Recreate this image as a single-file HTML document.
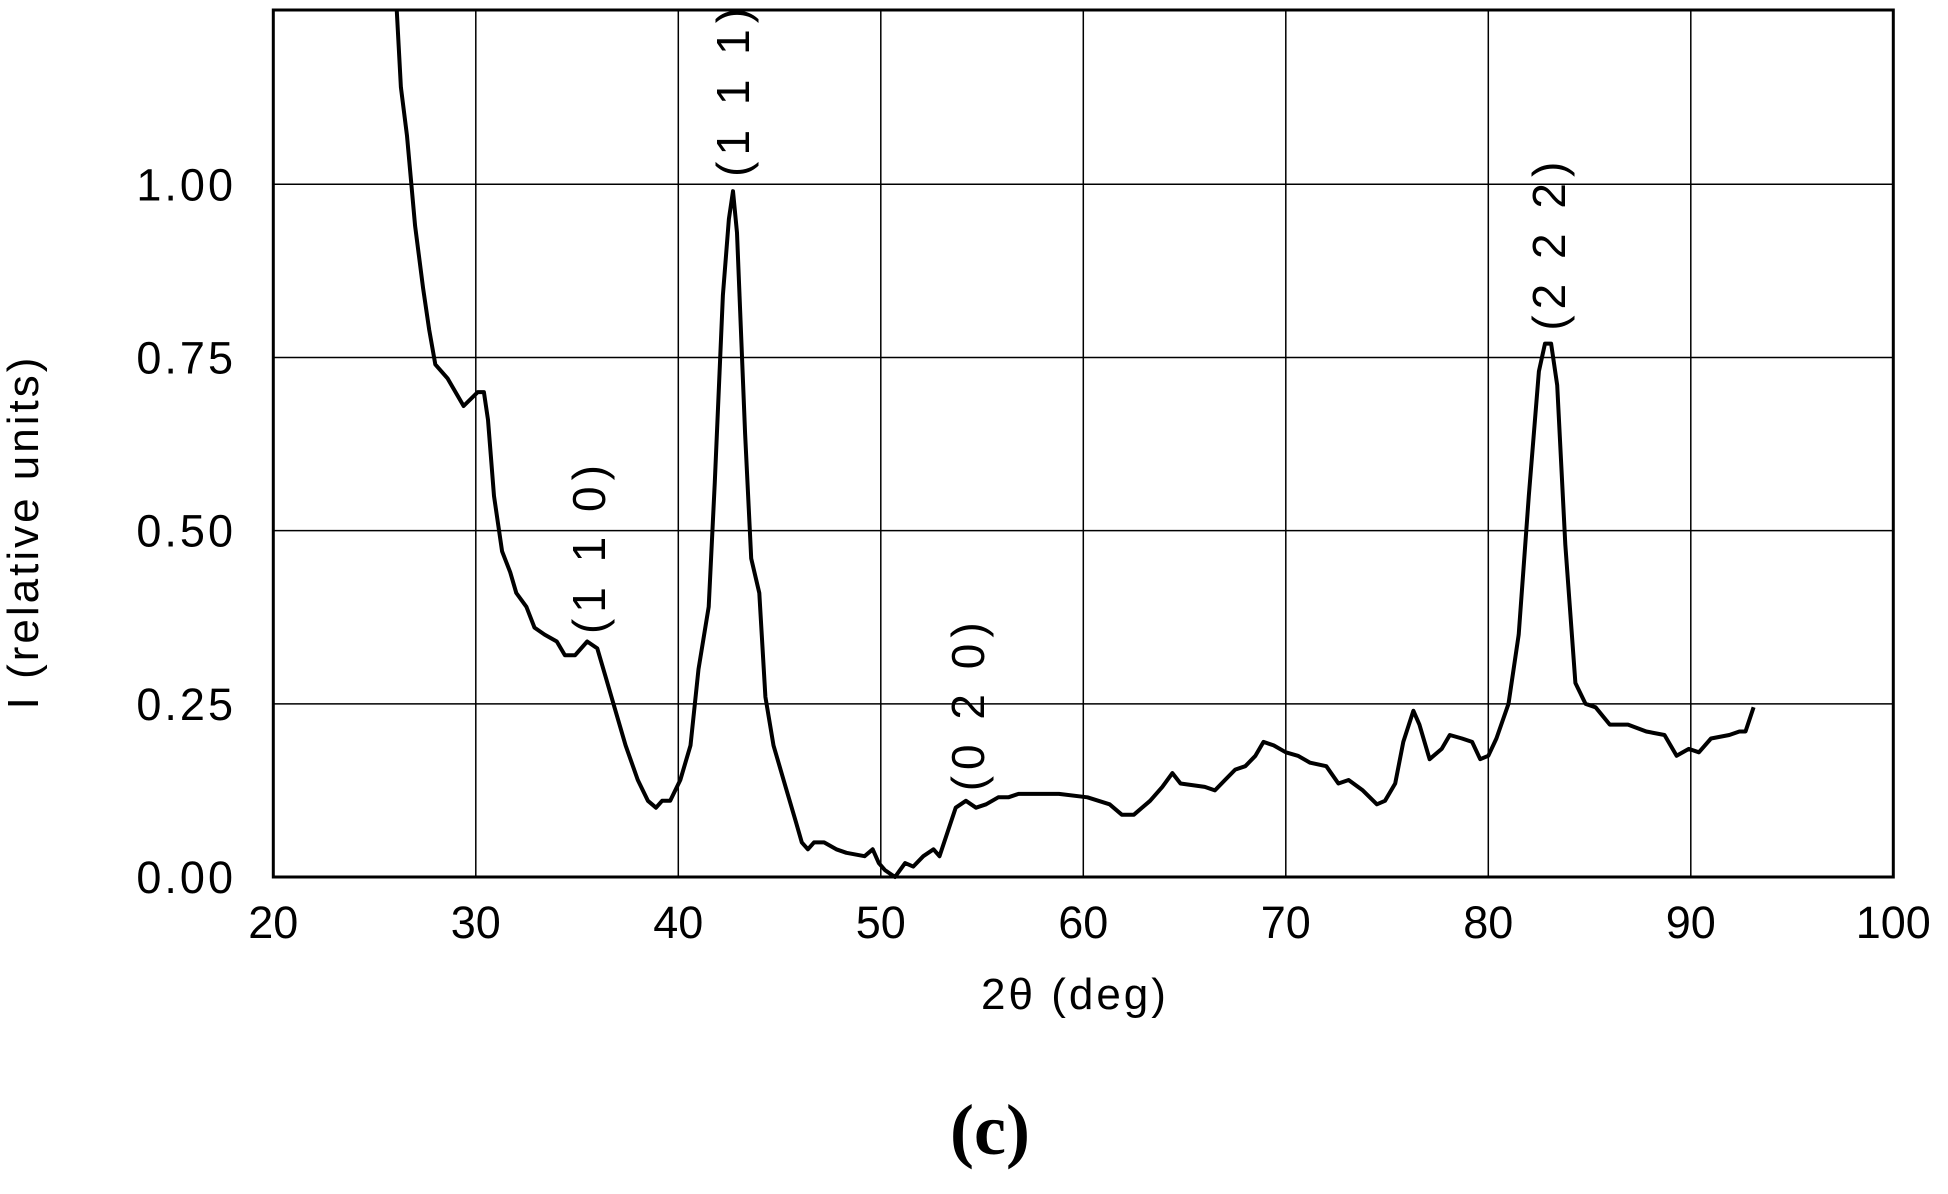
<!DOCTYPE html>
<html><head><meta charset="utf-8"><style>
body{margin:0;background:#fff;}
svg text{font-family:"Liberation Sans",Arial,sans-serif;fill:#000;}
</style></head><body>
<svg id="chart" width="1948" height="1189" viewBox="0 0 1948 1189" xmlns="http://www.w3.org/2000/svg">
<g id="grid"></g>
<g id="ticks"></g>
<path id="curve" fill="none" stroke="#000" stroke-width="4" stroke-linejoin="round"/>
<rect x="273.3" y="10" width="1620" height="867" fill="none" stroke="#000" stroke-width="3"/>
<text x="1075" y="1009" font-size="44" letter-spacing="3" text-anchor="middle">2θ (deg)</text>
<text transform="translate(38,532) rotate(-90)" font-size="44" letter-spacing="3" text-anchor="middle">I (relative units)</text>
<text x="990" y="1154" font-size="72" font-weight="bold" text-anchor="middle" style="font-family:'Liberation Serif',serif">(c)</text>
<g id="peaks"></g>
</svg>
<script>
const xTicks=[20,30,40,50,60,70,80,90,100];
const yTicks=[0,0.25,0.5,0.75,1.0];
const yTickLabels=["0.00","0.25","0.50","0.75","1.00"];
const xData=[26.1,26.3,26.6,27.0,27.4,27.7,28.0,28.6,29.4,30.1,30.4,30.6,30.9,31.3,31.7,32.0,32.5,32.9,33.4,34.0,34.4,34.9,35.5,36.0,36.4,36.9,37.4,38.0,38.5,38.9,39.2,39.6,40.1,40.6,41.0,41.5,41.8,42.2,42.5,42.7,42.9,43.3,43.6,44.0,44.3,44.7,45.3,45.8,46.1,46.4,46.7,47.2,47.8,48.3,49.2,49.6,49.9,50.2,50.7,51.2,51.6,52.1,52.6,52.9,53.3,53.7,54.2,54.7,55.2,55.8,56.3,56.8,57.9,58.8,60.2,61.3,61.9,62.5,63.3,63.9,64.4,64.8,66.0,66.5,67.0,67.5,68.0,68.5,68.9,69.4,70.0,70.6,71.2,72.0,72.6,73.1,73.8,74.5,74.9,75.4,75.8,76.3,76.6,77.1,77.7,78.1,78.7,79.2,79.6,80.0,80.4,81.0,81.5,82.0,82.5,82.8,83.1,83.4,83.8,84.3,84.8,85.3,86.0,86.9,87.8,88.7,89.3,89.9,90.4,91.0,91.9,92.4,92.7,93.1];
const yData=[1.25,1.14,1.07,0.94,0.85,0.79,0.74,0.72,0.68,0.70,0.70,0.66,0.55,0.47,0.44,0.41,0.39,0.36,0.35,0.34,0.32,0.32,0.34,0.33,0.29,0.24,0.19,0.14,0.11,0.10,0.11,0.11,0.14,0.19,0.30,0.39,0.57,0.84,0.95,0.99,0.93,0.64,0.46,0.41,0.26,0.19,0.13,0.08,0.05,0.04,0.05,0.05,0.04,0.035,0.03,0.04,0.02,0.01,0.00,0.02,0.015,0.03,0.04,0.03,0.065,0.10,0.11,0.10,0.105,0.115,0.115,0.12,0.12,0.12,0.115,0.105,0.09,0.09,0.11,0.13,0.15,0.135,0.13,0.125,0.14,0.155,0.16,0.175,0.195,0.19,0.18,0.175,0.165,0.16,0.135,0.14,0.125,0.105,0.11,0.135,0.195,0.24,0.22,0.17,0.185,0.205,0.20,0.195,0.17,0.175,0.20,0.25,0.35,0.55,0.73,0.77,0.77,0.71,0.48,0.28,0.25,0.245,0.22,0.22,0.21,0.205,0.175,0.185,0.18,0.20,0.205,0.21,0.21,0.245];
const peakLabels=["(1 1 0)","(1 1 1)","(0 2 0)","(2 2 2)"];
const peakX=[35.6,42.7,54.3,83.0];
const peakY=[0.477,1.137,0.25,0.915];
const X=v=>273.3+(v-20)*20.25;
const Y=v=>877-v*692.7;
const NS="http://www.w3.org/2000/svg";
const grid=document.getElementById('grid'),ticks=document.getElementById('ticks');
xTicks.forEach(t=>{
 const l=document.createElementNS(NS,'line');
 
 
 l.setAttribute('x1',X(t));l.setAttribute('x2',X(t));l.setAttribute('y1',10);l.setAttribute('y2',877);
 l.setAttribute('stroke','#000');l.setAttribute('stroke-width','1.5');grid.appendChild(l);
 const tx=document.createElementNS(NS,'text');
 
 
 tx.setAttribute('x',X(t));tx.setAttribute('y',938);tx.setAttribute('font-size','45');tx.setAttribute('text-anchor','middle');
 tx.textContent=t;ticks.appendChild(tx);
});
yTicks.forEach((t,i)=>{
 const l=document.createElementNS(NS,'line');
 
 
 l.setAttribute('x1',273.3);l.setAttribute('x2',1893.3);l.setAttribute('y1',Y(t));l.setAttribute('y2',Y(t));
 l.setAttribute('stroke','#000');l.setAttribute('stroke-width','1.5');grid.appendChild(l);
 const tx=document.createElementNS(NS,'text');
 
 
 tx.setAttribute('x',236);tx.setAttribute('y',Y(t)+16);tx.setAttribute('font-size','45');tx.setAttribute('letter-spacing','3');tx.setAttribute('text-anchor','end');
 tx.textContent=yTickLabels[i];ticks.appendChild(tx);
});
document.getElementById('curve').setAttribute('d',xData.map((x,i)=>(i?'L':'M')+X(x).toFixed(1)+','+Math.max(10,Y(yData[i])).toFixed(1)).join(' '));
const pk=document.getElementById('peaks');
peakLabels.forEach((s,i)=>{
 const tx=document.createElementNS(NS,'text');
 
 
 tx.setAttribute('transform',`translate(${X(peakX[i])+16},${Y(peakY[i])}) rotate(-90)`);
 tx.setAttribute('font-size','46');tx.setAttribute('letter-spacing','6');tx.setAttribute('text-anchor','middle');
 tx.textContent=s;pk.appendChild(tx);
});
</script>
</body></html>
